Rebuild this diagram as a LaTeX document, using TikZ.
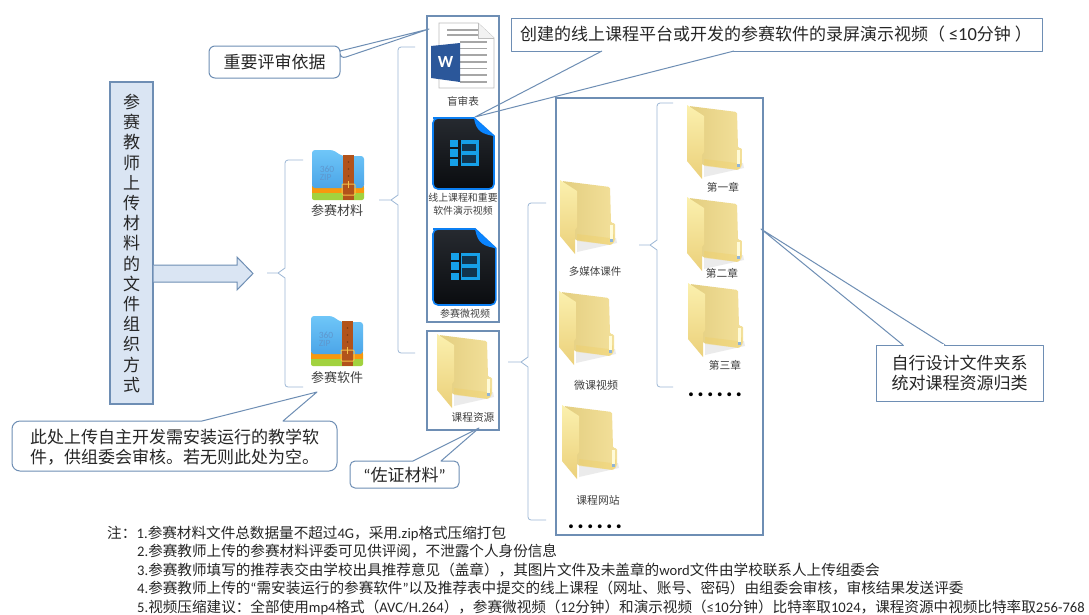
\documentclass[tikz,border=0pt]{standalone}
\usepackage{fontspec}
\setmainfont{Noto Sans CJK SC}
\newfontfamily\lat{Carlito}
\usetikzlibrary{calc}
\definecolor{frameblue}{HTML}{6E8EB4}
\definecolor{titlefill}{HTML}{DAE5F3}
\definecolor{braceblue}{HTML}{9DB8D6}
\definecolor{inkdark}{HTML}{262626}
\definecolor{inksoft}{HTML}{404040}
\definecolor{fa}{HTML}{E3CE80}\definecolor{fb}{HTML}{F3E09A}\definecolor{fc}{HTML}{F0CE62}
\definecolor{fd}{HTML}{FFFBD8}\definecolor{fe}{HTML}{8FB4D8}\definecolor{ff}{HTML}{FBF0AE}
\definecolor{fg}{HTML}{EBD07A}\definecolor{za}{HTML}{A2D23F}\definecolor{zb}{HTML}{F7980F}
\definecolor{zc}{HTML}{6FC6F8}\definecolor{zd}{HTML}{4BA5E8}\definecolor{ze}{HTML}{B2531B}
\definecolor{zf}{HTML}{7A3A12}\definecolor{zg}{HTML}{F5C04A}\definecolor{zh}{HTML}{5E97CE}
\definecolor{va}{HTML}{262A30}\definecolor{vb}{HTML}{0A0C0F}\definecolor{vc}{HTML}{0C7FF2}
\definecolor{vd}{HTML}{0A84FF}\definecolor{ve}{HTML}{16A0E8}\definecolor{vf}{HTML}{12161B}\definecolor{vg}{HTML}{12344C}
\definecolor{wa}{HTML}{BDBDBD}\definecolor{wb}{HTML}{F2F2F2}\definecolor{wc}{HTML}{A6A6A6}
\definecolor{wd}{HTML}{2B579A}
\newcommand{\fsz}[1]{\fontsize{#1}{#1}\selectfont}
\newcommand{\sixdots}{.\kern2.6pt.\kern2.6pt.\kern2.6pt.\kern2.6pt.\kern2.6pt.}
% stub, spine, top end, bottom end
\newcommand{\treebrace}[4]{%
  \draw[bracket] (#3) [rounded corners=3pt] -- (#2|-#3) [sharp corners] -- ($(#2|-#1)+(0,-5)$) -- ($(#2|-#1)+(-7,0)$) -- (#1);
  \draw[bracket] (#4) [rounded corners=3pt] -- (#2|-#4) [sharp corners] -- ($(#2|-#1)+(0,5)$) -- ($(#2|-#1)+(-7,0)$);
}
\tikzset{
  frame/.style={draw=frameblue,line width=1.2pt},
  callout/.style={draw=frameblue,line width=1pt,fill=white,line join=round},
  bracket/.style={draw=braceblue,line width=.8pt},
  calltext/.style={text=inkdark,align=center},
  iconlabel/.style={text=inksoft,anchor=center,inner sep=0pt},
  notetext/.style={text=inkdark,anchor=base west,inner sep=0pt,font=\fsz{14.6}},
  pics/folder/.style={code={
    \fill[gray!30,opacity=.5] (17,60) -- (56,58) -- (57,63) -- (17,72) -- cycle;
    \shade[left color=fa,right color=fb,draw=none,rounded corners=1.5pt]
      (2,1) -- (50,7) -- (51,43) -- (55,43) -- (55,61) -- (51,65) -- (15,60) -- cycle;
    \fill[fc,opacity=.35] (17,54) -- (50,58) -- (54,54) -- (54,61) -- (51,65) -- (17,61) -- cycle;
    \fill[fd] (49.5,45) -- (53,45) -- (53,59) -- (49.5,59) -- cycle;
    \fill[fe] (49.5,59) -- (53,59) -- (53,62) -- (49.5,62) -- cycle;
    \shade[top color=ff,bottom color=fg,draw=none]
      (0,0) -- (17,11) -- (17,47) -- (15,50) -- (15,74) -- (0,56) -- cycle;
  }},
  pics/zipicon/.style={code={
    \fill[za,rounded corners=2pt] (0,36) rectangle (52,50);
    \fill[zb] (0,36) rectangle (52,43);
    \shade[top color=zc,bottom color=zd,rounded corners=3pt]
      (0,38) -- (0,0) -- (21,0) -- (30,6) -- (52,6) -- (52,38) -- cycle;
    \fill[ze] (31,5) rectangle (42,50);
    \foreach \yy in {12,19,26} {\fill[zf] (36.5,\yy) circle (.9);}
    \draw[zg,line width=1pt,rounded corners=1pt] (30,34) rectangle (43,45);
    \draw[zg,line width=.8pt] (36.5,31) -- (36.5,38);
    \node[inner sep=0pt,text=zh,font=\lat\fontsize{9.5}{8}\selectfont,align=left] at (15,23.5) {360\\ZIP};
  }},
  pics/videoicon/.style={code={
    \shade[top color=va,bottom color=vb,draw=vc,line width=1.6pt,rounded corners=5pt]
      (0,0) [sharp corners] -- (41,0) -- (61,18) [rounded corners=5pt] -- (61,71) -- (0,71) -- (0,0) -- (20,0);
    \fill[vd] (41,0) -- (61,18) .. controls (50,16) and (43,14) .. cycle;
    \fill[ve] (17,22) rectangle (46,48);
    \fill[vf] (25,22) rectangle (27.5,48);
    \fill[vg] (28.5,25.5) rectangle (43,33);
    \fill[vg] (28.5,36.5) rectangle (43,44.5);
    \fill[vf] (17,28.5) rectangle (25,31);
    \fill[vf] (17,38.5) rectangle (25,41);
  }},
  pics/wordicon/.style={code={
    \draw[wa,fill=white,line width=.8pt] (8,0) -- (47,0) -- (63,15) -- (63,65) -- (8,65) -- cycle;
    \draw[wa,fill=wb,line width=.6pt] (47,0) -- (47,15) -- (63,15);
    \foreach \yy in {7,12} {\draw[wc,line width=1.9pt] (16,\yy) -- (47,\yy);}
    \foreach \yy in {19,25.5,32,39,45.5,52,59} {\draw[wc,line width=1.9pt] (29,\yy) -- (56,\yy);}
    \fill[wd] (0,23) -- (29,20) -- (29,59) -- (0,55) -- cycle;
    \node[inner sep=0pt,text=white,font=\lat\bfseries\fsz{17}] at (14.5,39) {W};
  }},
}
\begin{document}
\begin{tikzpicture}[x=1pt,y=-1pt]
\useasboundingbox (0,0) rectangle (1089,614);
\fill[white] (0,0) rectangle (1089,614);

% free ends
\coordinate (tipA) at (429,29);
\coordinate (tipB) at (475,117);
\coordinate (tipC) at (761,229);
\coordinate (tipD) at (317,392);
\coordinate (tipE) at (479,428);

% callouts
\draw[callout] (340,59) [sharp corners] -- (tipA) -- (340,51) [rounded corners=6pt] -- (340,46) -- (209,46) -- (209,78) -- (340,78) -- (340,59) -- cycle;
\node[calltext,font=\fsz{17}] (calloutA) at (274.5,62) {重要评审依据};

\draw[callout] (511,18) rectangle (1042,51);
\fill[white] (603,50) -- (733,50) -- (733,52) -- (603,52) -- cycle;
\draw[callout] (602,51) -- (tipB) -- (734,51);
\node[calltext,font=\fsz{17},inner sep=0pt] (calloutB) at (776,34) {创建的线上课程平台或开发的参赛软件的录屏演示视频（\kern4pt{\lat\fontsize{18.5}{18.5}\selectfont ≤10}分钟\kern4pt）};

\draw[callout] (876,345) rectangle (1043,401);
\draw[callout] (903,345) -- (tipC) -- (945,345);
\fill[white] (904,344.4) rectangle (944,345.8);
\node[calltext,font=\fontsize{17}{20}\selectfont,inner sep=0pt] (calloutC) at (959.5,373) {自行设计文件夹系\\统对课程资源归类};

\draw[callout,rounded corners=8pt] (202,421) [sharp corners] -- (tipD) -- (283,421) [rounded corners=8pt] -- (337,421) -- (337,471) -- (12,471) -- (12,421) -- (202,421);
\node[calltext,font=\fontsize{17}{20}\selectfont,inner sep=0pt,align=left] (calloutD) at (174.5,447) {此处上传自主开发需安装运行的教学软\\件，供组委会审核。若无则此处为空。};

\draw[callout] (413,461) [sharp corners] -- (tipE) -- (441,461) [rounded corners=5pt] -- (459,461) -- (459,488) -- (350,488) -- (350,461) -- (413,461);
\node[calltext,font=\fsz{17},inner sep=0pt] (calloutE) at (404.5,475) {{\lat “}佐证材料{\lat ”}};

% title and arrow
\node[draw=frameblue,line width=1.4pt,fill=titlefill,minimum width=43pt,minimum height=322pt,inner sep=0pt] (title) at (131.5,243) {};
\node[text=inkdark,inner sep=0pt,align=center,font=\fontsize{17}{20.2}\selectfont] (titletext) at (131.5,243.5) {参\\赛\\教\\师\\上\\传\\材\\料\\的\\文\\件\\组\\织\\方\\式};
\draw[draw=frameblue,line width=1pt,fill=titlefill,line join=miter]
  (title.east|-0,265) -- (237,265) -- (237,257) -- (253,273.5) -- (237,290) -- (237,282) -- (title.east|-0,282);

% frames
\node[frame,minimum width=72pt,minimum height=306pt,inner sep=0pt] (boxA) at (463,169) {};
\node[frame,minimum width=72pt,minimum height=99pt,inner sep=0pt] (boxB) at (463,380.5) {};
\node[frame,minimum width=207pt,minimum height=437pt,inner sep=0pt] (boxC) at (659.5,316.5) {};

% icons and labels
\pic (zipA) at (312,150) {zipicon};
\node[iconlabel,font=\fsz{13}] (lblZipA) at (337,211) {参赛材料};
\pic (zipB) at (311,316) {zipicon};
\node[iconlabel,font=\fsz{13}] (lblZipB) at (337,378) {参赛软件};

\pic (word) at (431,23) {wordicon};
\node[iconlabel,font=\fsz{10.6}] (lblWord) at (463,101) {盲审表};
\pic (vidA) at (433,118) {videoicon};
\node[iconlabel,font=\fontsize{9.9}{12.6}\selectfont,align=center] (lblVidA) at (463,204.5) {线上课程和重要\\软件演示视频};
\pic[xscale=1.03,yscale=1.07] (vidB) at (433,229) {videoicon};
\node[iconlabel,font=\fsz{10}] (lblVidB) at (465,314) {参赛微视频};

\pic (foldRes) at (437,334) {folder};
\node[iconlabel,font=\fsz{10.7}] (lblRes) at (473,417) {课程资源};

\pic (foldMedia) at (560,180) {folder};
\node[iconlabel,font=\fsz{10.5}] (lblMedia) at (595,272) {多媒体课件};
\pic (foldMicro) at (559,291) {folder};
\node[iconlabel,font=\fsz{11}] (lblMicro) at (596,385) {微课视频};
\pic (foldSite) at (562,405) {folder};
\node[iconlabel,font=\fsz{10.8}] (lblSite) at (598,500) {课程网站};
\pic (foldCh1) at (687,105) {folder};
\node[iconlabel,font=\fsz{10.7}] (lblCh1) at (723,187) {第一章};
\pic (foldCh2) at (687,197) {folder};
\node[iconlabel,font=\fsz{10.7}] (lblCh2) at (722,273) {第二章};
\pic (foldCh3) at (688,283) {folder};
\node[iconlabel,font=\fsz{10.7}] (lblCh3) at (725,365) {第三章};

\node[inner sep=0pt,anchor=base,text=black,font=\lat\bfseries\fsz{26}] (dotsA) at (715,396.5) {\sixdots};
\node[inner sep=0pt,anchor=base,text=black,font=\lat\bfseries\fsz{26}] (dotsB) at (595,528.5) {\sixdots};

% tree brackets
\coordinate (brA) at (267,273); \coordinate (brAs) at (285,273);
\coordinate (brAt) at (303,160); \coordinate (brAb) at (303,387);
\treebrace{brA}{brAs}{brAt}{brAb}
\coordinate (brB) at (379,200); \coordinate (brBs) at (398,200);
\coordinate (brBt) at (415,47); \coordinate (brBb) at (415,353);
\treebrace{brB}{brBs}{brBt}{brBb}
\coordinate (brC) at (508,362); \coordinate (brCs) at (528,362);
\coordinate (brCt) at (546,203); \coordinate (brCb) at (546,520);
\treebrace{brC}{brCs}{brCt}{brCb}
\coordinate (brD) at (639,245); \coordinate (brDs) at (657,245);
\coordinate (brDt) at (673,103); \coordinate (brDb) at (673,387);
\treebrace{brD}{brDs}{brDt}{brDb}

% notes
\node[notetext] (note0) at (107,538) {注：};
\node[notetext] (note1) at (136.5,538) {{\lat 1.}参赛材料文件总数据量不超过{\lat 4G}，采用{\lat .zip}格式压缩打包};
\node[notetext] (note2) at (137,556.5) {{\lat 2.}参赛教师上传的参赛材料评委可见供评阅，不泄露个人身份信息};
\node[notetext] (note3) at (137,575) {{\lat 3.}参赛教师填写的推荐表交由学校出具推荐意见（盖章），其图片文件及未盖章的{\lat word}文件由学校联系人上传组委会};
\node[notetext] (note4) at (137,593) {{\lat 4.}参赛教师上传的{\lat “}需安装运行的参赛软件{\lat ”}以及推荐表中提交的线上课程（网址、账号、密码）由组委会审核，审核结果发送评委};
\node[notetext] (note5) at (137,612) {{\lat 5.}视频压缩建议：全部使用{\lat mp4}格式（{\lat AVC/H.264}），参赛微视频（{\lat 12}分钟）和演示视频（{\lat ≤10}分钟）比特率取{\lat 1024}，课程资源中视频比特率取{\lat 256-768}};
\end{tikzpicture}
\end{document}
